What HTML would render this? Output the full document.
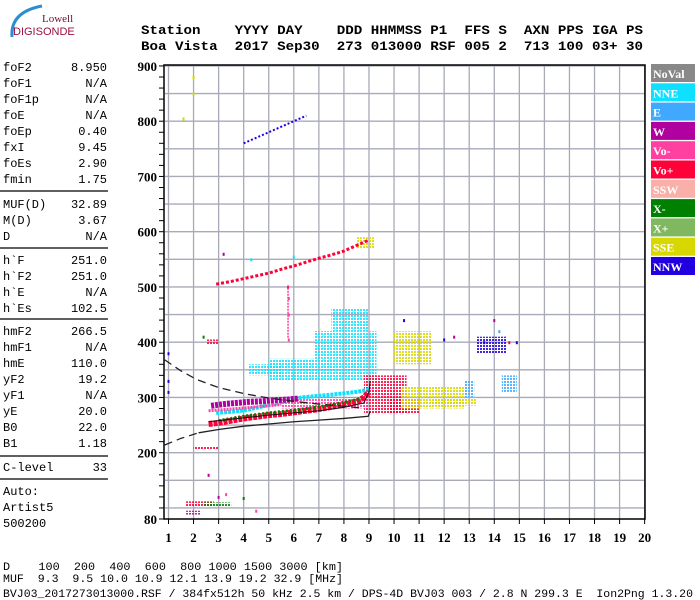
<!DOCTYPE html>
<html><head><meta charset="utf-8"><style>
html,body{margin:0;padding:0;background:#fff;}
svg{display:block;}
.mono{font-family:"Liberation Mono",monospace;}
.ser{font-family:"Liberation Serif",serif;font-weight:bold;}
</style></head><body>
<svg id="chart" width="700" height="600" viewBox="0 0 700 600" xmlns="http://www.w3.org/2000/svg">
<defs id="defs"></defs>
<g>
 <path d="M12,37 Q10,12 42,6" stroke="#2a8fd0" stroke-width="3" fill="none"/>
 <text x="42" y="22" font-family="Liberation Serif,serif" font-size="11" fill="#6a1030">Lowell</text>
 <text x="13" y="35" font-family="Liberation Sans,sans-serif" font-size="11" fill="#9a1040">DIGISONDE</text>
</g>
<g class="mono" font-weight="bold" font-size="13" fill="#000">
 <text x="141" y="34" textLength="502" lengthAdjust="spacingAndGlyphs" xml:space="preserve">Station    YYYY DAY    DDD HHMMSS P1  FFS S  AXN PPS IGA PS</text>
 <text x="141" y="50" textLength="502" lengthAdjust="spacingAndGlyphs" xml:space="preserve">Boa Vista  2017 Sep30  273 013000 RSF 005 2  713 100 03+ 30</text>
</g>
<g id="params" class="mono" font-size="12" fill="#000"></g>
<g id="plot"></g>
<g id="legend"></g>
<g class="mono" font-size="11.3" fill="#000">
 <text x="3" y="570" textLength="340" lengthAdjust="spacingAndGlyphs" xml:space="preserve">D    100  200  400  600  800 1000 1500 3000 [km]</text>
 <text x="3" y="582" textLength="340" lengthAdjust="spacingAndGlyphs" xml:space="preserve">MUF  9.3  9.5 10.0 10.9 12.1 13.9 19.2 32.9 [MHz]</text>
 <text x="3" y="597" textLength="690" lengthAdjust="spacingAndGlyphs" xml:space="preserve">BVJ03_2017273013000.RSF / 384fx512h 50 kHz 2.5 km / DPS-4D BVJ03 003 / 2.8 N 299.3 E  Ion2Png 1.3.20</text>
</g>
</svg>
<script>
const NS="http://www.w3.org/2000/svg";
const paramNames=["foF2","foF1","foF1p","foE","foEp","fxI","foEs","fmin","MUF(D)","M(D)","D","h`F","h`F2","h`E","h`Es","hmF2","hmF1","hmE","yF2","yF1","yE","B0","B1","C-level"];
const paramValues=["8.950","N/A","N/A","N/A","0.40","9.45","2.90","1.75","32.89","3.67","N/A","251.0","251.0","N/A","102.5","266.5","N/A","110.0","19.2","N/A","20.0","22.0","1.18","33"];
const xTicks=[1,2,3,4,5,6,7,8,9,10,11,12,13,14,15,16,17,18,19,20];
const yTicks=[80,200,300,400,500,600,700,800,900];
const legendLabels=["NoVal","NNE","E","W","Vo-","Vo+","SSW","X-","X+","SSE","NNW"];
const legendColors=["#888888","#10e0ff","#40a8ff","#b000a0","#ff40a0","#ff0038","#f8b0a8","#008000","#80b860","#d8d800","#2000e0"];
// clouds: [f0,f1,h0,h1,colorIndex]
const clouds=[[5.0,9.3,330,370,1],[6.8,9.3,370,420,1],[7.5,9.0,420,460,1],[4.2,5.5,340,360,1],
 [8.8,10.5,270,340,5],[9.8,11.0,270,300,5],[10.3,12.8,280,320,9],[11.5,13.3,285,300,9],[10.0,11.5,360,420,9],
 [13.3,14.5,380,410,10],[14.3,14.9,310,340,2],[12.8,13.2,300,330,2],[1.7,2.8,103,112,5],[2.4,3.5,103,110,7],
 [1.7,2.3,88,95,3],[2.0,3.0,205,212,5],[2.5,3.0,395,405,5],[8.5,9.2,570,590,9],[5.5,9.0,280,300,4]];
const traceVoPlus=[[2.6,252],[3,254],[3.5,258],[4,262],[4.5,265],[5,268],[5.5,270],[6,273],[6.5,276],[7,279],[7.5,283],[8,287],[8.5,292],[8.8,300],[9,310]];
const traceXminus=[[3,258],[4,266],[5,272],[6,277],[7,283],[8,291],[8.7,298]];
const traceW=[[2.7,285],[3.2,288],[3.7,290],[4.2,292],[4.7,293],[5.2,295],[5.7,296],[6.2,298]];
const traceVoMinus=[[2.6,276],[3.5,279],[4.5,283],[5.5,287]];
const traceNNE=[[2.9,272],[3.5,274],[4.1,277],[6.3,300],[7,303],[7.5,305],[8.5,310],[9,314]];
const trace2hop=[[2.9,505],[3.5,510],[4,515],[4.5,520],[5,525],[5.5,532],[6,538],[6.5,545],[7,552],[7.5,558],[8,565],[8.5,575],[9,585]];
const trace3hop=[[4,760],[4.5,770],[5,780],[5.5,790],[6,800],[6.5,810]];
const profileSolid=[[2.2,236],[3,242],[4,248],[5,252],[6,256],[7,259],[8,262],[8.97,266],[9.05,275]];
const profileDashLow=[[0.85,214],[1.5,226],[2.2,236]];
const profileDashHigh=[[0.85,368],[1.5,348],[2.15,332],[3,318],[4,307],[5,299],[6,293],[7,288],[8,284],[8.65,281]];
const traceFit=[[2.6,256],[4,263],[5,268],[6,272],[7,276],[8,282],[8.8,290],[9,310],[9.05,330]];
const sparse=[[2,880,9],[2,850,9],[1.6,805,9],[5.8,405,4],[5.8,450,4],[5.8,480,4],[5.77,500,5],[14.2,420,2],[14,440,3],[10.4,440,10],[12.4,410,3],[13.6,400,10],[12,405,10],[14.9,400,10],[14.6,400,5],[4.3,550,1],[6.0,555,1],[3.2,560,3],[2.4,410,7],[1.0,310,10],[1.0,330,10],[1.0,380,10],[2.6,160,3],[3,120,3],[3.3,125,4],[4,118,7],[4.5,95,4]];

function xs(f){return 168.5+25.06*(f-1);}
function ys(h){return 519-(h-80)*0.5525;}
function mk(tag,attrs,parent){const e=document.createElementNS(NS,tag);for(const k in attrs)e.setAttribute(k,attrs[k]);parent.appendChild(e);return e;}

// patterns per colour
const defs=document.getElementById('defs');
legendColors.forEach((c,i)=>{const p=mk('pattern',{id:'pd'+i,width:3,height:3,patternUnits:'userSpaceOnUse'},defs);
 mk('rect',{width:2,height:2,fill:c},p);});

// params
const pg=document.getElementById('params');
const rowsY=[67,83,99,115,131,147,163,179,204,220,236,260,276,292,308,331,347,363,379,395,411,427,443,467];
paramNames.forEach((n,i)=>{
 const t=mk('text',{x:3,y:rowsY[i]+4},pg);t.textContent=n;
 
 
 const v=mk('text',{x:107,y:rowsY[i]+4,'text-anchor':'end'},pg);v.textContent=paramValues[i];
 
 
});
[191,248,319,456,479].forEach(y=>{const l=mk('line',{x1:0,x2:108,y1:y,y2:y,stroke:'#000','stroke-width':1.3},pg);
 
 });
[["Auto:",495],["Artist5",511],["500200",527]].forEach(a=>{const t=mk('text',{x:3,y:a[1]},pg);t.textContent=a[0];
 
 });

// plot grid
const pl=document.getElementById('plot');
for(let h=100;h<=900;h+=50){const l=mk('line',{x1:165,x2:645,y1:ys(h),y2:ys(h),stroke:'#a8aab8','stroke-width':1.3},pl);
 
 }
xTicks.forEach(f=>{const l=mk('line',{x1:xs(f),x2:xs(f),y1:65,y2:519,stroke:'#a8aab8','stroke-width':1.3},pl);
 
 });
// clouds
clouds.forEach(c=>{const r=mk('rect',{x:xs(c[0]),y:ys(c[3]),width:xs(c[1])-xs(c[0]),height:ys(c[2])-ys(c[3]),fill:'url(#pd'+c[4]+')',opacity:0.85},pl);
 
 });
function trace(arr,color,w,name,dash){const p=mk('polyline',{points:arr.map(d=>xs(d[0])+','+ys(d[1])).join(' '),fill:'none',stroke:color,'stroke-width':w},pl);
 if(dash)p.setAttribute('stroke-dasharray',dash);
 
 }
trace(traceNNE,legendColors[1],4,'nne-trace','3 1');
trace(traceW,legendColors[3],6,'w-trace','3 1');
trace(traceVoMinus,legendColors[4],3,'vo-minus-trace','2 1');
trace(traceVoPlus,legendColors[5],6,'vo-plus-trace','4 1');
trace(traceXminus,legendColors[7],3,'x-minus-trace','2 2');
trace(trace2hop,legendColors[5],3,'second-hop-trace','3 2');
trace(trace3hop,legendColors[10],2,'third-hop-trace','2 2');
trace(profileSolid,'#222',1.3,'profile-solid');
trace(profileDashLow,'#222',1.3,'profile-dashed-lower','8 5');
trace(profileDashHigh,'#222',1.3,'profile-dashed-upper','8 5');
trace(traceFit,'#111',1,'trace-fit');
sparse.forEach(s=>{const r=mk('rect',{x:xs(s[0])-1,y:ys(s[1])-1,width:2,height:3,fill:legendColors[s[2]]},pl);
 
 });
trace([[5.77,408],[5.77,503]],legendColors[4],1.5,'vertical-echo','2 1');

// axes
const ax=mk('path',{d:'M164,65 H645 V519 H164 Z',fill:'none',stroke:'#000','stroke-width':1.5},pl);


for(let h=80;h<=900;h+=20){const l=mk('line',{x1:159,x2:164,y1:ys(h),y2:ys(h),stroke:'#000','stroke-width':1},pl);
 
 }
yTicks.forEach(h=>{const t=mk('text',{x:157,y:ys(h)+5,'text-anchor':'end','font-size':13,class:'ser'},pl);t.textContent=h;
 
 });
xTicks.forEach(f=>{const l=mk('line',{x1:xs(f),x2:xs(f),y1:519,y2:524,stroke:'#000','stroke-width':1},pl);
 
 
 const t=mk('text',{x:xs(f),y:542,'text-anchor':'middle','font-size':13,class:'ser'},pl);t.textContent=f;
 
 });

// legend
const lg=document.getElementById('legend');
legendLabels.forEach((n,i)=>{const y=64+i*19.3;
 const r=mk('rect',{x:651,y:y,width:44,height:18,fill:legendColors[i]},lg);
 
 
 const t=mk('text',{x:653,y:y+14,'font-size':12,fill:'#fff',class:'ser'},lg);t.textContent=n;
 
 });
</script>
</body></html>
